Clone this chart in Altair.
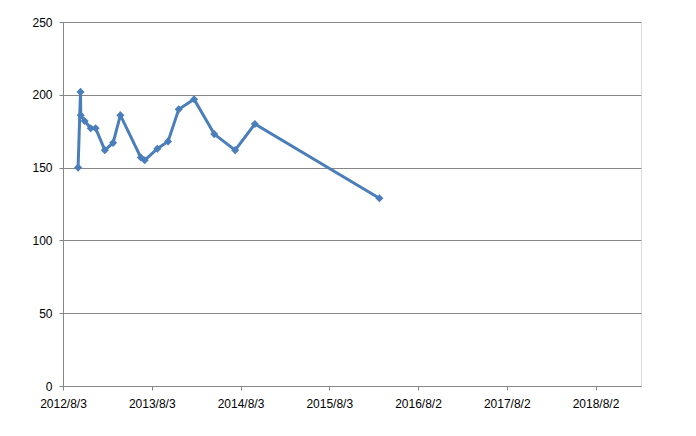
import altair as alt
import pandas as pd

dates = ["2012-10-04", "2012-10-14", "2012-10-15", "2012-10-31", "2012-11-25",
         "2012-12-15", "2013-01-22", "2013-02-25", "2013-03-27", "2013-06-19",
         "2013-07-05", "2013-08-26", "2013-10-09", "2013-11-22", "2014-01-24",
         "2014-04-17", "2014-07-12", "2014-10-01", "2016-02-25"]
values = [150, 202, 186, 182, 177, 177, 162, 167, 186, 157,
          155, 163, 168, 190, 197, 173, 162, 180, 129]
tick_dates = ["2012-08-03", "2013-08-03", "2014-08-03", "2015-08-03",
              "2016-08-02", "2017-08-02", "2018-08-02"]
domain_dates = ["2012-08-03", "2019-02-05"]
y_ticks = [0, 50, 100, 150, 200, 250]

df = pd.DataFrame({"date": dates, "value": values})

def ms(s):
    return int(pd.Timestamp(s, tz="UTC").value // 1_000_000)

tick_ms = [ms(d) for d in tick_dates]
domain_ms = [ms(d) for d in domain_dates]

FONT = "Liberation Sans"
GRAY = "#868686"

chart = alt.Chart(df).mark_line(
    color="#4A7EBB", strokeWidth=3,
    point=alt.OverlayMarkDef(shape="diamond", size=65, filled=True, color="#4A7EBB")
).encode(
    x=alt.X("date:T", title=None,
            scale=alt.Scale(type="utc", domain=domain_ms, nice=False),
            axis=alt.Axis(values=tick_ms,
                          labelExpr="utcFormat(datum.value, '%Y/%-m/%-d')",
                          grid=False, domainColor=GRAY, tickColor=GRAY, tickSize=4,
                          labelPadding=8, labelFont=FONT, labelFontSize=12,
                          labelColor="#000000", labelAngle=0, labelFlush=False,
                          labelOverlap=False)),
    y=alt.Y("value:Q", title=None,
            scale=alt.Scale(domain=[0, 250], nice=False),
            axis=alt.Axis(values=y_ticks, grid=True, gridColor=GRAY, gridWidth=1,
                          domainColor=GRAY, tickColor=GRAY, tickSize=4,
                          labelPadding=7, labelFont=FONT, labelFontSize=12,
                          labelColor="#000000"))
).properties(
    width=578, height=364,
    autosize=alt.AutoSizeParams(type="none"),
    padding={"left": 55, "top": 14, "right": 47, "bottom": 42}
).configure_view(stroke=None).configure(background="white")

chart.save("out.html", embed_options={"renderer": "svg", "actions": False})
